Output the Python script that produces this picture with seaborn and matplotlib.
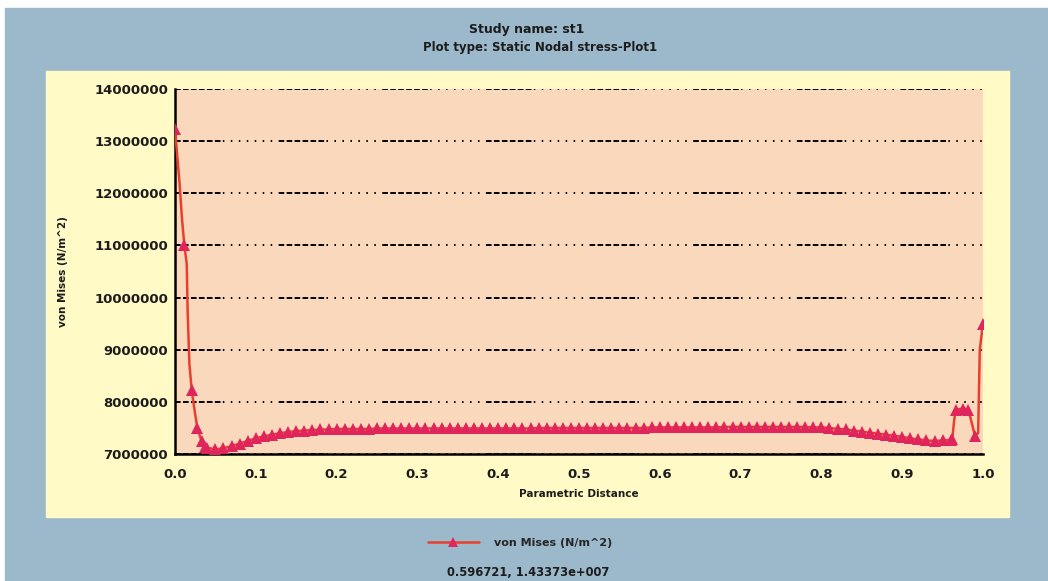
import matplotlib
matplotlib.use("Agg")
import matplotlib.pyplot as plt
import matplotlib.patches as mpatches
from matplotlib.lines import Line2D
from matplotlib.ticker import MultipleLocator, FixedLocator
import seaborn as sns
import pandas as pd

# parametric distance along the path
dist = [
    0.0, 0.0054, 0.0087, 0.0116, 0.0145, 0.0157, 0.0178, 0.0207, 0.0248, 0.0277, 0.033, 0.037,
    0.04, 0.05, 0.06, 0.07, 0.08, 0.09, 0.10, 0.11, 0.12, 0.13,
    0.14, 0.15, 0.16, 0.17, 0.18, 0.19, 0.20, 0.21, 0.22, 0.23,
    0.24, 0.25, 0.26, 0.27, 0.28, 0.29, 0.30, 0.31, 0.32, 0.33,
    0.34, 0.35, 0.36, 0.37, 0.38, 0.39, 0.40, 0.41, 0.42, 0.43,
    0.44, 0.45, 0.46, 0.47, 0.48, 0.49, 0.50, 0.51, 0.52, 0.53,
    0.54, 0.55, 0.56, 0.57, 0.58, 0.59, 0.60, 0.61, 0.62, 0.63,
    0.64, 0.65, 0.66, 0.67, 0.68, 0.69, 0.70, 0.71, 0.72, 0.73,
    0.74, 0.75, 0.76, 0.77, 0.78, 0.79, 0.80, 0.81, 0.82, 0.83,
    0.84, 0.85, 0.86, 0.87, 0.88, 0.89, 0.90, 0.91, 0.92, 0.93,
    0.94, 0.95, 0.96,
    0.962, 0.964, 0.966, 0.975, 0.982, 0.986, 0.990, 0.994, 0.996, 1.0,
]

# von Mises stress (N/m^2), same order as dist
von_mises = [
    13230000, 12240000, 11500000, 11000000, 10650000, 9700000, 8730000, 8220000, 7780000, 7500000, 7240000, 7140000,
    7120000, 7090000, 7110000, 7150000, 7200000, 7250000, 7300000, 7340000, 7370000, 7400000,
    7420000, 7440000, 7450000, 7460000, 7470000, 7470000, 7480000, 7480000, 7480000, 7480000,
    7480000, 7490000, 7490000, 7490000, 7490000, 7490000, 7490000, 7490000, 7490000, 7490000,
    7490000, 7490000, 7490000, 7490000, 7490000, 7490000, 7490000, 7490000, 7490000, 7490000,
    7490000, 7500000, 7500000, 7500000, 7500000, 7500000, 7500000, 7500000, 7500000, 7500000,
    7500000, 7500000, 7500000, 7500000, 7500000, 7510000, 7510000, 7510000, 7510000, 7510000,
    7510000, 7510000, 7510000, 7510000, 7520000, 7520000, 7520000, 7520000, 7520000, 7520000,
    7520000, 7520000, 7520000, 7520000, 7520000, 7510000, 7510000, 7500000, 7480000, 7470000,
    7450000, 7430000, 7410000, 7390000, 7370000, 7350000, 7330000, 7300000, 7280000, 7260000,
    7250000, 7260000, 7270000,
    7280000, 7600000, 7850000, 7870000, 7850000, 7600000, 7350000, 7400000, 9000000, 9500000,
]

x_ticks = [0.0, 0.1, 0.2, 0.3, 0.4, 0.5, 0.6, 0.7, 0.8, 0.9, 1.0]
y_ticks = [7000000, 8000000, 9000000, 10000000, 11000000, 12000000, 13000000, 14000000]

df = pd.DataFrame({"dist": dist, "vm": von_mises})

# the steep parts only carry a marker on some nodes
marked = [0, 3, 7, 9, 10, 11] + list(range(12, 106)) + [107, 108, 109, 111, 114]

BLUE = "#9cb9cb"
YELLOW = "#fffac6"
PEACH = "#fad8bc"
LINE_RED = "#e8402c"
MARK_PINK = "#e0245c"
TXT = "#1c1c1c"

sns.set_theme(style="white")
plt.rcParams["font.family"] = ["DejaVu Sans"]

fig = plt.figure(figsize=(10.48, 5.81), dpi=100, facecolor="white")
W, H = 1048, 581

# blue backdrop and yellow panel
fig.patches.append(mpatches.Rectangle((5 / W, 0), 1 - 5 / W, (H - 8) / H,
                                      transform=fig.transFigure, color=BLUE, zorder=-2))
fig.patches.append(mpatches.Rectangle((46 / W, (H - 517) / H), 963 / W, 446 / H,
                                      transform=fig.transFigure, color=YELLOW, zorder=-1))

ax = fig.add_axes([175 / W, (H - 454) / H, (983 - 175) / W, (454 - 89) / H])
ax.set_facecolor(PEACH)

sns.lineplot(data=df, x="dist", y="vm", ax=ax, color=LINE_RED, linewidth=1.8,
             marker="^", markersize=8, markerfacecolor=MARK_PINK, markeredgewidth=0,
             markevery=marked, sort=True, estimator=None, zorder=3)

ax.set_xlim(0, 1.0)
ax.set_ylim(7000000, 14000000)
ax.xaxis.set_major_locator(FixedLocator(x_ticks))
ax.yaxis.set_major_locator(FixedLocator(y_ticks))
ax.xaxis.set_minor_locator(MultipleLocator(0.05))
ax.yaxis.set_minor_locator(MultipleLocator(500000))
ax.set_xticklabels([f"{t:.1f}" for t in x_ticks])
ax.set_yticklabels([str(t) for t in y_ticks])

# long dashes then dots, starting from the left axis
grid_dash = (0, (2.9, 1.2, 2.9, 1.2, 2.9, 1.2, 2.9, 1.2, 2.9, 1.2, 2.9, 1.2,
                 0.8, 3.3, 0.8, 3.3, 0.8, 3.3, 0.8, 3.3, 0.8, 3.3, 0.8, 3.3, 0.8, 3.3))
ax.yaxis.grid(True, color="black", linestyle=grid_dash, linewidth=1.4)
ax.xaxis.grid(False)

for side in ["top", "right"]:
    ax.spines[side].set_visible(False)
for side in ["left", "bottom"]:
    ax.spines[side].set_color("black")
    ax.spines[side].set_linewidth(1.8)

ax.tick_params(axis="both", which="major", direction="inout", length=8, width=1.8,
               color="black", labelsize=9.5, labelcolor=TXT)
ax.tick_params(axis="both", which="minor", direction="inout", length=7, width=1.8, color="black")
ax.tick_params(axis="x", which="major", pad=6)
ax.tick_params(axis="y", which="major", pad=1)
for lab in ax.get_xticklabels() + ax.get_yticklabels():
    lab.set_fontweight("bold")

ax.set_xlabel("Parametric Distance", fontsize=7.5, fontweight="bold", color=TXT, labelpad=6)
ax.set_ylabel("von Mises (N/m^2)", fontsize=7.5, fontweight="bold", color=TXT, labelpad=19)

fig.text(527 / W, 1 - 30 / H, "Study name: st1", ha="center", va="center",
         fontsize=9, fontweight="bold", color=TXT)
fig.text(540 / W, 1 - 47 / H, "Plot type: Static Nodal stress-Plot1", ha="center", va="center",
         fontsize=8.5, fontweight="bold", color=TXT)

handle = Line2D([], [], color=LINE_RED, linewidth=1.8, marker="^", markersize=7,
                markerfacecolor=MARK_PINK, markeredgewidth=0)
fig.legend([handle], ["von Mises (N/m^2)"], loc="center", bbox_to_anchor=(520 / W, 1 - 543 / H),
           frameon=False, handlelength=4.6, handletextpad=1.4, numpoints=1,
           prop={"size": 8, "weight": "bold"})

fig.text(528 / W, 1 - 573 / H, "0.596721, 1.43373e+007", ha="center", va="center",
         fontsize=8.3, fontweight="bold", color=TXT)

fig.savefig("out.png", dpi=100, facecolor=fig.get_facecolor())
